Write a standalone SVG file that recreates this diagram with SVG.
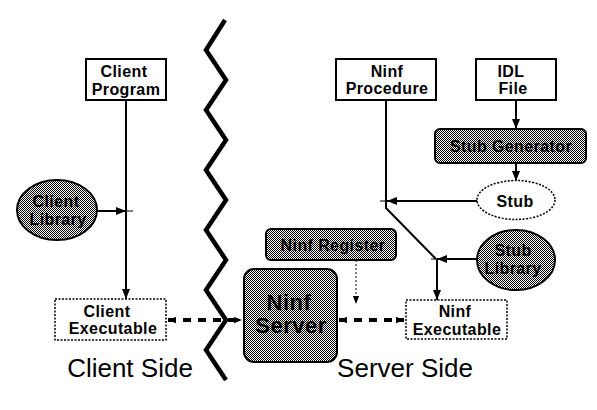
<svg xmlns="http://www.w3.org/2000/svg" width="597" height="410" viewBox="0 0 597 410">
<style>
.t{font-family:"Liberation Sans",Arial,sans-serif;font-weight:bold;font-size:16px;letter-spacing:0.4px;fill:#000;text-anchor:middle}
.big{font-family:"Liberation Sans",Arial,sans-serif;font-size:26px;fill:#000;text-anchor:middle}
.srv{font-family:"Liberation Sans",Arial,sans-serif;font-weight:bold;font-size:22px;letter-spacing:0.5px;fill:#000;text-anchor:middle}
.box{fill:#fff;stroke:#000;stroke-width:2}
.dot{fill:#fff;stroke:#000;stroke-width:1.5;stroke-dasharray:2,1.5}
.gray{fill:url(#dither);stroke:#000;stroke-width:2}
.c{fill:none;stroke:#000;stroke-width:2}
.tick{fill:none;stroke:#000;stroke-width:1}
.thick{fill:none;stroke:#000;stroke-width:4;stroke-dasharray:8,7}
</style>
<defs>
<pattern id="dither" width="2" height="2" patternUnits="userSpaceOnUse">
<rect width="2" height="2" fill="#fff"/>
<rect width="1" height="1" fill="#000"/>
<rect x="1" y="1" width="1" height="1" fill="#000"/>
</pattern>
<marker id="arr" viewBox="0 0 10 8" refX="10" refY="4" markerWidth="10" markerHeight="8" markerUnits="userSpaceOnUse" orient="auto">
<path d="M0,0 L10,4 L0,8 z" fill="#000"/>
</marker>
<marker id="arrS" viewBox="0 0 10 8" refX="10" refY="4" markerWidth="8" markerHeight="7" markerUnits="userSpaceOnUse" orient="auto-start-reverse">
<path d="M0,0 L10,4 L0,8 z" fill="#000"/>
</marker>
</defs>
<rect width="597" height="410" fill="#fff"/>

<polyline points="225,20 206,50 226,80 206,110 226,140 206,170 226,200 206,230 226,260 206,290 226,320 206,350 226,380" fill="none" stroke="#000" stroke-width="4.5" stroke-linejoin="miter"/>

<g id="connectors">
<line class="c" x1="126" y1="100" x2="126" y2="299" marker-end="url(#arr)"/>
<line class="c" x1="97" y1="211" x2="126" y2="211" marker-end="url(#arr)"/>
<line class="tick" x1="126" y1="211" x2="133" y2="211"/>
<line class="c" x1="516" y1="100" x2="516" y2="129" marker-end="url(#arr)"/>
<line class="c" x1="516" y1="163" x2="516" y2="181" marker-end="url(#arr)"/>
<line class="c" x1="477" y1="201" x2="387" y2="201" marker-end="url(#arr)"/>
<line class="tick" x1="387" y1="201" x2="380" y2="201"/>
<polyline class="c" points="386,100 386,208 436,259"/>
<line class="c" x1="437" y1="259" x2="437" y2="300" marker-end="url(#arr)"/>
<line class="c" x1="477" y1="259" x2="437" y2="259" marker-end="url(#arr)"/>
<line class="tick" x1="437" y1="259" x2="431" y2="259"/>
<line x1="356" y1="260" x2="356" y2="304" stroke="#000" stroke-width="1" stroke-dasharray="2,2" marker-end="url(#arrS)"/>
<line class="thick" x1="168" y1="320" x2="242" y2="320" marker-start="url(#arrS)" marker-end="url(#arrS)"/>
<line class="thick" x1="339" y1="320" x2="404" y2="320" marker-start="url(#arrS)" marker-end="url(#arrS)"/>
</g>

<g id="client-program">
<rect class="box" x="86" y="59" width="80" height="41"/>
<text class="t" x="124" y="77">Client</text>
<text class="t" x="126" y="95">Program</text>
</g>

<g id="client-library">
<ellipse class="gray" cx="57" cy="210" rx="40" ry="30"/>
<text class="t" x="56" y="207">Client</text>
<text class="t" x="58" y="225">Library</text>
</g>

<g id="client-executable">
<rect class="dot" x="55" y="299" width="111" height="41"/>
<text class="t" x="107" y="317">Client</text>
<text class="t" x="113" y="334">Executable</text>
</g>

<g id="ninf-procedure">
<rect class="box" x="336" y="59" width="100" height="41"/>
<text class="t" x="387" y="77">Ninf</text>
<text class="t" x="387" y="94">Procedure</text>
</g>

<g id="idl-file">
<rect class="box" x="476" y="59" width="80" height="41"/>
<text class="t" x="511" y="77">IDL</text>
<text class="t" x="513" y="94">File</text>
</g>

<g id="stub-generator">
<rect class="gray" x="435" y="129" width="151" height="34" rx="5"/>
<text class="t" x="511" y="152">Stub Generator</text>
</g>

<g id="stub">
<ellipse class="dot" cx="516" cy="200" rx="39" ry="19.5"/>
<text class="t" x="515" y="207">Stub</text>
</g>

<g id="stub-library">
<ellipse class="gray" cx="516" cy="260" rx="39" ry="30"/>
<text class="t" x="513" y="256">Stub</text>
<text class="t" x="513" y="274">Library</text>
</g>

<g id="ninf-register">
<rect class="gray" x="266" y="229" width="130" height="31" rx="5"/>
<text class="t" x="333" y="251">Ninf Register</text>
</g>

<g id="ninf-server">
<rect class="gray" x="244" y="269" width="93" height="93" rx="10"/>
<text class="srv" x="289" y="310">Ninf</text>
<text class="srv" x="291" y="333">Server</text>
</g>

<g id="ninf-executable">
<rect class="dot" x="406" y="300" width="101" height="39"/>
<text class="t" x="455" y="317">Ninf</text>
<text class="t" x="457" y="335">Executable</text>
</g>

<text class="big" x="130" y="377">Client Side</text>
<text class="big" x="405" y="377">Server Side</text>
</svg>
